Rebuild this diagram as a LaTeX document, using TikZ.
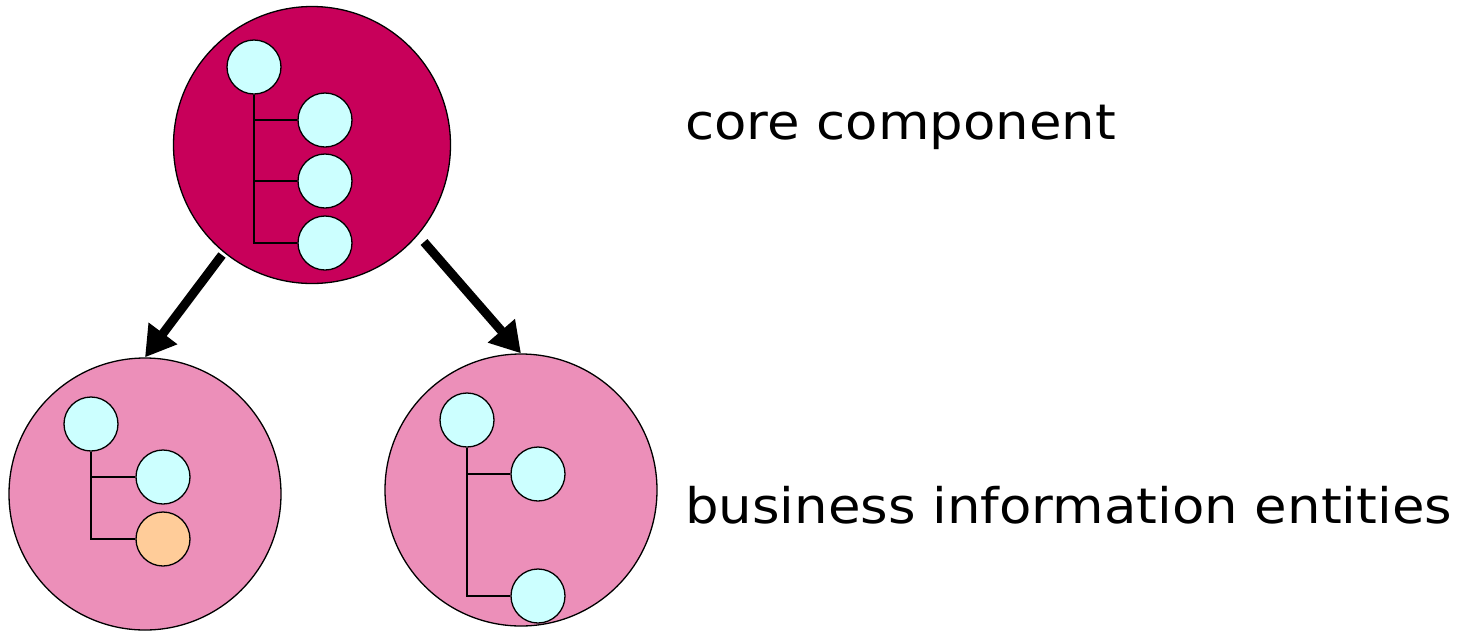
\documentclass[tikz,border=0pt]{standalone}
\usepackage{fontspec}
\setmainfont{DejaVu Sans}
\newfontfamily\labelfont[FakeStretch=1.08]{DejaVu Sans}
\usetikzlibrary{arrows.meta}
\definecolor{coremag}{HTML}{C8005A}
\definecolor{biepink}{HTML}{EC8FB9}
\definecolor{leafcyan}{HTML}{CCFFFF}
\definecolor{leaforange}{HTML}{FFCC99}
\tikzset{
  bigcirc/.style={circle, draw=black, line width=1.3pt, inner sep=0pt, minimum size=272pt},
  leaf/.style={circle, draw=black, line width=1.3pt, inner sep=0pt, minimum size=54pt, fill=leafcyan},
  treeline/.style={line width=1.3pt},
  bigarrow/.style={line width=9pt, -{Triangle[length=30pt,width=34pt]}},
  label/.style={font=\labelfont\fontsize{49}{54}\selectfont, anchor=base west, inner sep=0pt}
}
\begin{document}
\begin{tikzpicture}[x=1pt,y=-1pt]
\useasboundingbox (0,0) rectangle (1460,630);
% top core component
\node[bigcirc, fill=coremag, minimum size=277pt] (top) at (312,145) {};
\node[leaf] (t1) at (254,67) {};
\node[leaf] (t2) at (325,120) {};
\node[leaf] (t3) at (325,181) {};
\node[leaf] (t4) at (325,243) {};
\draw[treeline] (t1.south) |- (t4.west);
\draw[treeline] (t1.south |- t2.west) -- (t2.west);
\draw[treeline] (t1.south |- t3.west) -- (t3.west);
% bottom left
\node[bigcirc, fill=biepink] (bl) at (145,494) {};
\node[leaf] (l1) at (91,424) {};
\node[leaf] (l2) at (163,477) {};
\node[leaf, fill=leaforange] (l3) at (163,539) {};
\draw[treeline] (l1.south) |- (l3.west);
\draw[treeline] (l1.south |- l2.west) -- (l2.west);
% bottom right
\node[bigcirc, fill=biepink] (br) at (521,490) {};
\node[leaf] (r1) at (467,420) {};
\node[leaf] (r2) at (538,474) {};
\node[leaf] (r3) at (538,596) {};
\draw[treeline] (r1.south) |- (r3.west);
\draw[treeline] (r1.south |- r2.west) -- (r2.west);
% arrows
\coordinate (ls) at (222,255);
\coordinate (rs) at (424,242);
\draw[bigarrow] (ls) -- (bl.north);
\draw[bigarrow] (rs) -- (br.north);
% labels
\node[label] (lcore) at (685,139) {core component};
\node[label] (lbie) at (685,523) {business information entities};
\end{tikzpicture}
\end{document}
